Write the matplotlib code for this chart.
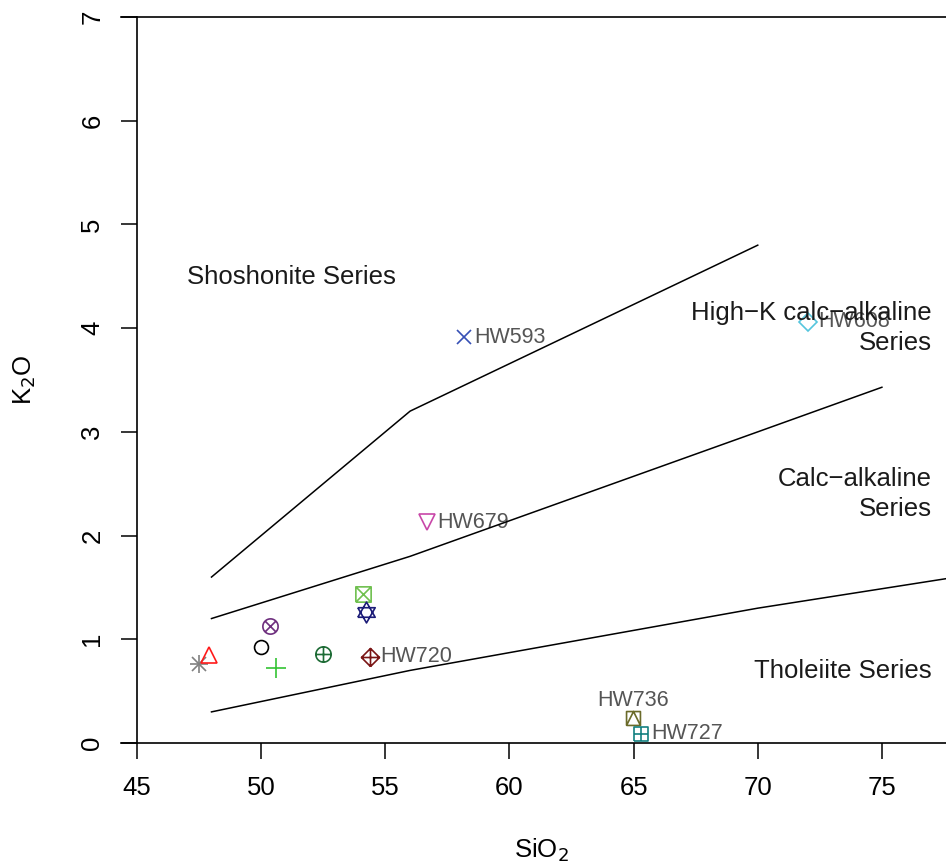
import matplotlib
matplotlib.use("Agg")
import matplotlib.pyplot as plt
from matplotlib.path import Path
import numpy as np

plt.rcParams['font.family'] = ['Liberation Sans', 'DejaVu Sans']

# ---- data ----
samples = ["S1", "S2", "S3", "S4", "S5", "S6", "S7", "S8", "HW720", "HW593",
           "HW679", "HW608", "HW736", "HW727"]
sio2 = [47.50, 47.90, 49.99, 50.36, 50.60, 52.49, 54.10, 54.22, 54.38, 58.17,
        56.68, 72.02, 64.98, 65.30]
k2o = [0.76, 0.85, 0.93, 1.13, 0.72, 0.86, 1.44, 1.26, 0.83, 3.91,
       2.13, 4.06, 0.24, 0.09]
labels = ["", "", "", "", "", "", "", "", "HW720", "HW593",
          "HW679", "HW608", "HW736", "HW727"]

# boundary lines (Peccerillo & Taylor)
b1_x = [48, 56, 63, 70, 78]
b1_y = [0.3, 0.7, 1.0, 1.3, 1.6]
b2_x = [48, 56, 63, 70, 75]
b2_y = [1.2, 1.8, 2.4, 3.0, 3.43]
b3_x = [48, 56, 63, 70]
b3_y = [1.6, 3.2, 4.0, 4.8]

field_names = ["Shoshonite Series", "High\u2212K calc\u2212alkaline\nSeries",
               "Calc\u2212alkaline\nSeries", "Tholeiite Series"]
field_x = [47.0, 77.0, 77.0, 77.0]
field_y = [4.49, 4.0, 2.40, 0.69]

xticks = [45, 50, 55, 60, 65, 70, 75]
yticks = [0, 1, 2, 3, 4, 5, 6, 7]

# ---- styles ----
def mk(verts_list):
    verts, codes = [], []
    for poly in verts_list:
        for i, v in enumerate(poly):
            verts.append(v)
            codes.append(Path.MOVETO if i == 0 else Path.LINETO)
    return Path(verts, codes)

sq = [(-1, -1), (1, -1), (1, 1), (-1, 1), (-1, -1)]
dia = [(0, -1.3), (1.3, 0), (0, 1.3), (-1.3, 0), (0, -1.3)]
th = np.linspace(0, 2 * np.pi, 40)
circ = list(zip(np.cos(th), np.sin(th)))
xcross = [[(-1, -1), (1, 1)], [(-1, 1), (1, -1)]]
plus = [[(-1, 0), (1, 0)], [(0, -1), (0, 1)]]
d = 0.7071
xin = [[(-d, -d), (d, d)], [(-d, d), (d, -d)]]

m_sqx = mk([sq] + xcross)
m_diap = mk([dia, [(-1.3, 0), (1.3, 0)], [(0, -1.3), (0, 1.3)]])
m_circp = mk([circ] + plus)
m_circx = mk([circ] + xin)
m_sqp = mk([sq] + plus)
m_sqtri = mk([sq, [(-1, -1), (0, 1), (1, -1)]])
m_star = mk([[(-1, -0.55), (1, -0.55), (0, 1.2), (-1, -0.55)],
             [(-1, 0.55), (1, 0.55), (0, -1.2), (-1, 0.55)]])

markers = ['*asterisk', '^', 'o', m_circx, '+', m_circp, m_sqx, m_star, m_diap,
           'x', 'v', 'D', m_sqtri, m_sqp]
colors = ['#808080', '#ff1a1a', '#000000', '#6e2f7e', '#33c433', '#1d6b35',
          '#70c050', '#1c1c78', '#7a1515', '#3650b5', '#c847a8', '#55c5dd',
          '#6b6b2a', '#138080']
sizes = [13, 12, 10, 11, 14, 11, 11, 15, 13, 10, 12, 9, 10, 10]

fig = plt.figure(figsize=(9.46, 8.63), dpi=100)
W, H = 946, 863
ax = fig.add_axes([121 / W, (H - 743) / H, (946 - 121) / W, (743 - 17) / H])
xmin = 45 - 16 / 24.83
xmax = xmin + (946 - 121) / 24.83
ax.set_xlim(xmin, xmax)
ax.set_ylim(0, 7)

for bx, by in [(b1_x, b1_y), (b2_x, b2_y), (b3_x, b3_y)]:
    ax.plot(bx, by, color='black', lw=1.1, zorder=2)

for i in range(len(sio2)):
    m = markers[i]
    if m == '*asterisk':
        ax.plot(sio2[i], k2o[i], marker='+', ms=sizes[i], color=colors[i],
                mew=1.2, ls='none', zorder=3)
        ax.plot(sio2[i], k2o[i], marker='x', ms=sizes[i] * 0.75, color=colors[i],
                mew=1.2, ls='none', zorder=3)
    else:
        ax.plot(sio2[i], k2o[i], marker=m, ms=sizes[i], mfc='none',
                mec=colors[i], color=colors[i], mew=1.2, ls='none', zorder=3)

for i, lab in enumerate(labels):
    if not lab:
        continue
    if lab == "HW736":
        ax.annotate(lab, (sio2[i], k2o[i]), xytext=(0, 13), textcoords='offset points',
                    ha='center', va='center', fontsize=15.5, color='#555555', zorder=1)
    else:
        ax.annotate(lab, (sio2[i], k2o[i]), xytext=(7.5, 0), textcoords='offset points',
                    ha='left', va='center', fontsize=15.5, color='#555555', zorder=1)

for name, fx, fy in zip(field_names, field_x, field_y):
    ha = 'left' if fx < 50 else 'right'
    ax.text(fx, fy, name, ha=ha, va='center', fontsize=18.5, color='#1a1a1a',
            multialignment=ha, linespacing=1.35, zorder=4)

ax.spines['right'].set_visible(False)
ax.spines['left'].set_position(('data', 45))
ax.spines['left'].set_bounds(0, 7)
for s in ['left', 'bottom', 'top']:
    ax.spines[s].set_linewidth(1.2)

ax.set_xticks(xticks)
ax.set_yticks(yticks)
ax.tick_params(axis='both', direction='out', length=11.5, width=1.1,
               labelsize=18.5, pad=12)
for t in ax.get_yticklabels():
    t.set_rotation(90)
    t.set_va('center')

fig.text(541 / W, 1 - 850 / H, r'SiO$_2$', ha='center', va='center', fontsize=18.5)
fig.text(25 / W, 1 - 380 / H, r'K$_2$O', ha='center', va='center', fontsize=18.5,
         rotation=90)

fig.savefig('out.png', dpi=100)
